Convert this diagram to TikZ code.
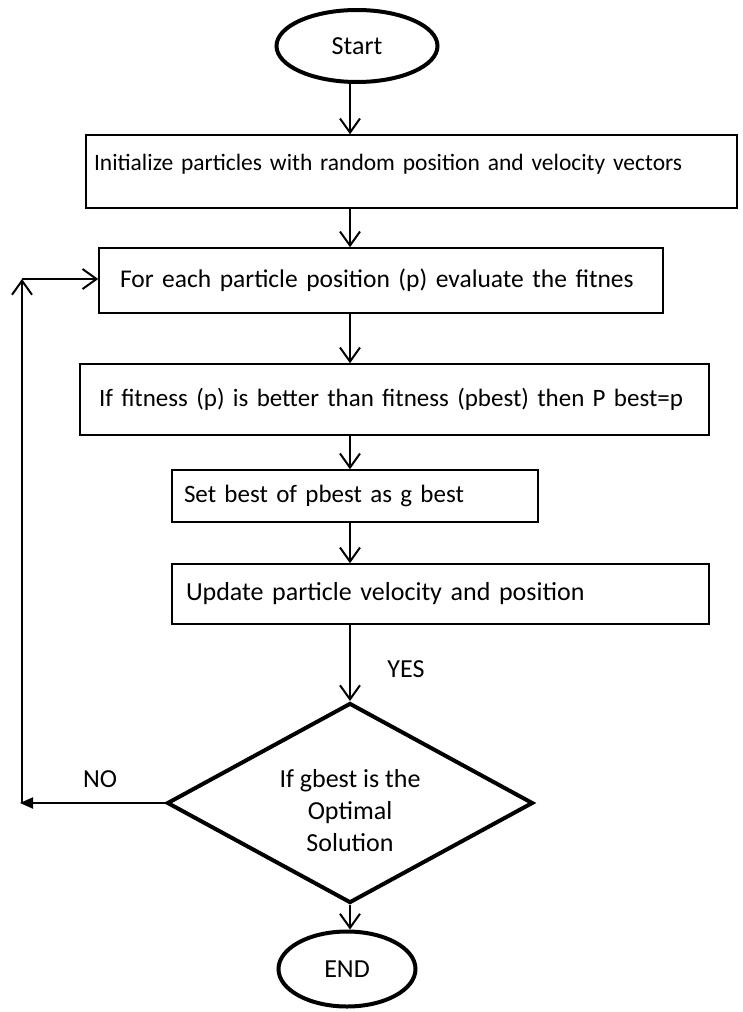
\documentclass[tikz,border=0pt]{standalone}
\usepackage{fontspec}
\setmainfont{Carlito}
\usetikzlibrary{arrows.meta,shapes.geometric}

\begin{document}
\begin{tikzpicture}[x=1pt,y=-1pt,
    every node/.style={font=\fontsize{26}{32}\selectfont},
    terminal/.style={ellipse,draw,line width=4pt,inner sep=0pt},
    stepbox/.style={rectangle,draw,line width=1.5pt,align=left,inner ysep=0pt,
                    font=\fontsize{25}{30}\selectfont},
    decision/.style={diamond,draw,line width=4pt,inner sep=0pt,aspect=1.8,align=center},
    flow/.style={line width=2pt,-{Straight Barb[length=14pt,width=20pt]}},
    back/.style={line width=2pt,-{Triangle[length=13pt,width=11pt]}}]
\useasboundingbox (0,0) rectangle (743,1012);

% terminals and steps
\node[terminal,minimum width=161pt,minimum height=72pt] (start) at (357,46) {Start};
\node[stepbox,font=\fontsize{23.5}{28}\selectfont,text width=635pt,inner xsep=8pt,
      minimum height=73pt,text height=18pt,text depth=20pt] (init) at (411.5,171.5)
      {Initialize particles with random position and velocity vectors};
\node[stepbox,font=\fontsize{25.5}{30}\selectfont,text width=522pt,inner xsep=21pt,
      minimum height=65pt] (each) at (381,280.5)
      {For each particle position (p) evaluate the fitnes};
\node[stepbox,text width=591pt,inner xsep=19pt,minimum height=71pt] (fit) at (394.5,399.5)
      {If fitness (p) is better than fitness (pbest) then P best=p};
\node[stepbox,text width=342pt,inner xsep=12pt,minimum height=52pt] (setg) at (355,496)
      {Set best of pbest as g best};
\node[stepbox,font=\fontsize{26}{30}\selectfont,text width=509pt,inner xsep=14pt,
      minimum height=60pt] (upd) at (440.5,594)
      {Update particle velocity and position};
\node[decision,minimum width=366pt,minimum height=200pt] (opt) at (350,803)
      {\rule{0pt}{33pt}If gbest is the\\Optimal\\Solution};
\node[terminal,minimum width=137pt,minimum height=75pt] (end) at (347,969) {END};

% branch labels
\node (yes) at (406,669) {YES};
\node (no) at (100,779) {NO};

% loop corners
\coordinate (loopb) at (20,803);
\coordinate (loopt) at (22,279);

% main flow
\draw[flow] (start.south -| opt) -- (init.north -| opt);
\draw[flow] (init.south -| opt) -- (each.north -| opt);
\draw[flow] (each.south -| opt) -- (fit.north -| opt);
\draw[flow] (fit.south -| opt) -- (setg.north -| opt);
\draw[flow] (setg.south -| opt) -- (upd.north -| opt);
\draw[flow] (upd.south -| opt) -- (opt.north);
\draw[flow] (opt.south) -- (opt.south |- end.north);

% back loop
\draw[back] (opt.west) -- (loopb);
\draw[flow] (loopb -| loopt) -- (loopt);
\draw[flow] (loopt) -- (loopt -| each.west);
\end{tikzpicture}
\end{document}
